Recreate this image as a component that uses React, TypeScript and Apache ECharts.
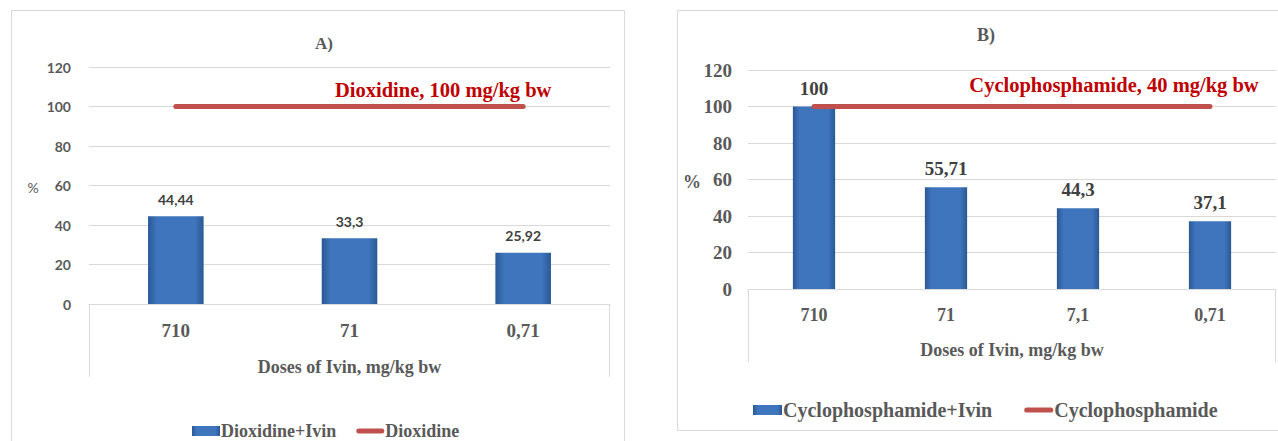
import React, { useEffect, useRef } from "react";
import * as echarts from "echarts";

const catsA = ["710", "71", "0,71"];
const valsA = [44.44, 33.3, 25.92];
const refA = [100, 100, 100];
const catsB = ["710", "71", "7,1", "0,71"];
const valsB = [100, 55.71, 44.3, 37.1];
const refB = [100, 100, 100, 100];
const yTicks = { min: 0, max: 120, interval: 20 };

const SERIF = "'Liberation Serif', 'Times New Roman', serif";
const SANS = "Lato, 'Liberation Sans', sans-serif";
const GRAY = "#595959";
const DARK = "#404040";
const RED = "#c0504d";
const LINE_ICON = "path://M2.5,0 L25.5,0 A2.5,2.5 0 0 1 25.5,5 L2.5,5 A2.5,2.5 0 0 1 2.5,0 Z";

const fmt = (v: number) => String(v).replace(".", ",");

const barColor = () =>
  new echarts.graphic.LinearGradient(0, 0, 1, 0, [
    { offset: 0, color: "#2a5894" },
    { offset: 0.16, color: "#3f75bd" },
    { offset: 0.84, color: "#3f75bd" },
    { offset: 1, color: "#2a5894" },
  ]);

export default function App() {
  const ref = useRef<HTMLDivElement>(null);
  useEffect(() => {
    if (!ref.current) return;
    const chart = echarts.init(ref.current, undefined, { renderer: "svg" });
    const refLine = (
      name: string,
      data: number[],
      gi: number,
      labelText: string,
      off: number[]
    ) => ({
      name,
      type: "line",
      xAxisIndex: gi,
      yAxisIndex: gi,
      symbol: "circle",
      symbolSize: 0.1,
      showSymbol: true,
      lineStyle: { color: RED, width: 5, cap: "round" },
      itemStyle: { color: RED },
      z: 5,
      data: data.map((v, i) =>
        i === data.length - 1
          ? {
              value: v,
              label: {
                show: true,
                position: "top",
                offset: off,
                formatter: labelText,
                color: "#c00000",
                fontFamily: SERIF,
                fontWeight: "bold",
                fontSize: 20.5,
              },
            }
          : v
      ),
    });
    chart.setOption({
      animation: false,
      backgroundColor: "#ffffff",
      title: [
        { text: "A)", left: 310, top: 30, textStyle: { fontFamily: SERIF, fontWeight: "bold", fontSize: 17, color: GRAY } },
        { text: "B)", left: 972, top: 21, textStyle: { fontFamily: SERIF, fontWeight: "bold", fontSize: 18, color: GRAY } },
      ],
      legend: [
        {
          left: 187,
          top: 417,
          itemWidth: 28,
          itemHeight: 10,
          itemGap: 20,
          data: [
            { name: "Dioxidine+Ivin", icon: "rect" },
            { name: "Dioxidine", icon: LINE_ICON },
          ],
          textStyle: { fontFamily: SERIF, fontWeight: "bold", fontSize: 18, color: GRAY, padding: [0, 0, 0, -4] },
        },
        {
          left: 748,
          top: 395,
          itemWidth: 29,
          itemHeight: 10,
          itemGap: 32,
          data: [
            { name: "Cyclophosphamide+Ivin", icon: "rect" },
            { name: "Cyclophosphamide", icon: LINE_ICON },
          ],
          textStyle: { fontFamily: SERIF, fontWeight: "bold", fontSize: 20, color: GRAY, padding: [0, 0, 0, -4] },
        },
      ],
      grid: [
        { left: 89, right: 1278 - 610, top: 67, bottom: 441 - 304 },
        { left: 748, right: 2, top: 70, bottom: 441 - 289 },
      ],
      xAxis: [
        {
          type: "category",
          gridIndex: 0,
          data: catsA,
          axisLine: { lineStyle: { color: "#d9d9d9" } },
          axisTick: { show: false },
          axisLabel: { margin: 17, fontFamily: SERIF, fontWeight: "bold", fontSize: 19, color: GRAY },
          name: "Doses of Ivin, mg/kg bw",
          nameLocation: "middle",
          nameGap: 54,
          nameTextStyle: { fontFamily: SERIF, fontWeight: "bold", fontSize: 18, color: GRAY },
        },
        {
          type: "category",
          gridIndex: 1,
          data: catsB,
          axisLine: { lineStyle: { color: "#d9d9d9" } },
          axisTick: { show: false },
          axisLabel: { margin: 17, fontFamily: SERIF, fontWeight: "bold", fontSize: 18, color: GRAY },
          name: "Doses of Ivin, mg/kg bw",
          nameLocation: "middle",
          nameGap: 52,
          nameTextStyle: { fontFamily: SERIF, fontWeight: "bold", fontSize: 18, color: GRAY },
        },
      ],
      yAxis: [
        {
          type: "value",
          gridIndex: 0,
          ...yTicks,
          axisLine: { show: false },
          axisTick: { show: false },
          splitLine: { lineStyle: { color: "#d9d9d9" } },
          axisLabel: { margin: 18, fontFamily: SANS, fontWeight: "bold", fontSize: 14, color: GRAY },
        },
        {
          type: "value",
          gridIndex: 1,
          ...yTicks,
          axisLine: { show: false },
          axisTick: { show: false },
          splitLine: { lineStyle: { color: "#d9d9d9" } },
          axisLabel: { margin: 16, fontFamily: SERIF, fontWeight: "bold", fontSize: 19, color: GRAY },
        },
      ],
      series: [
        {
          name: "Dioxidine+Ivin",
          type: "bar",
          xAxisIndex: 0,
          yAxisIndex: 0,
          barWidth: "32%",
          data: valsA,
          itemStyle: { color: barColor() },
          label: {
            show: true,
            position: "top",
            distance: 10,
            formatter: (p: any) => fmt(p.value),
            fontFamily: SANS,
            fontWeight: "bold",
            fontSize: 14,
            color: DARK,
          },
        },
        refLine("Dioxidine", refA, 0, "Dioxidine, 100 mg/kg bw", [-80, -1]),
        {
          name: "Cyclophosphamide+Ivin",
          type: "bar",
          xAxisIndex: 1,
          yAxisIndex: 1,
          barWidth: "32%",
          data: valsB,
          itemStyle: { color: barColor() },
          label: {
            show: true,
            position: "top",
            distance: 9,
            formatter: (p: any) => fmt(p.value),
            fontFamily: SERIF,
            fontWeight: "bold",
            fontSize: 19,
            color: DARK,
          },
        },
        refLine("Cyclophosphamide", refB, 1, "Cyclophosphamide, 40 mg/kg bw", [-96, -6]),
      ],
      graphic: [
        { type: "rect", shape: { x: 11.5, y: 10.5, width: 613, height: 440 }, style: { fill: "none", stroke: "#d9d9d9", lineWidth: 1 }, z: -1 },
        { type: "rect", shape: { x: 677.5, y: 10.5, width: 620, height: 420 }, style: { fill: "none", stroke: "#d9d9d9", lineWidth: 1 }, z: -1 },
        { type: "line", shape: { x1: 89.5, y1: 304, x2: 89.5, y2: 377 }, style: { stroke: "#d9d9d9", lineWidth: 1 } },
        { type: "line", shape: { x1: 609.5, y1: 304, x2: 609.5, y2: 377 }, style: { stroke: "#d9d9d9", lineWidth: 1 } },
        { type: "line", shape: { x1: 748.5, y1: 289, x2: 748.5, y2: 362 }, style: { stroke: "#d9d9d9", lineWidth: 1 } },
        { type: "line", shape: { x1: 1275.5, y1: 289, x2: 1275.5, y2: 362 }, style: { stroke: "#d9d9d9", lineWidth: 1 } },
        { type: "text", x: 33, y: 187, style: { text: "%", fontFamily: SANS, fontSize: 14, fill: GRAY, align: "center", verticalAlign: "middle" } },
        { type: "text", x: 692, y: 182, style: { text: "%", fontFamily: SERIF, fontWeight: "bold", fontSize: 18, fill: GRAY, align: "center", verticalAlign: "middle" } },
      ],
    });
    return () => chart.dispose();
  }, []);
  return (
    <div
      ref={ref}
      style={{ position: "fixed", left: 0, top: 0, width: 1278, height: 441, background: "#fff" }}
    />
  );
}
